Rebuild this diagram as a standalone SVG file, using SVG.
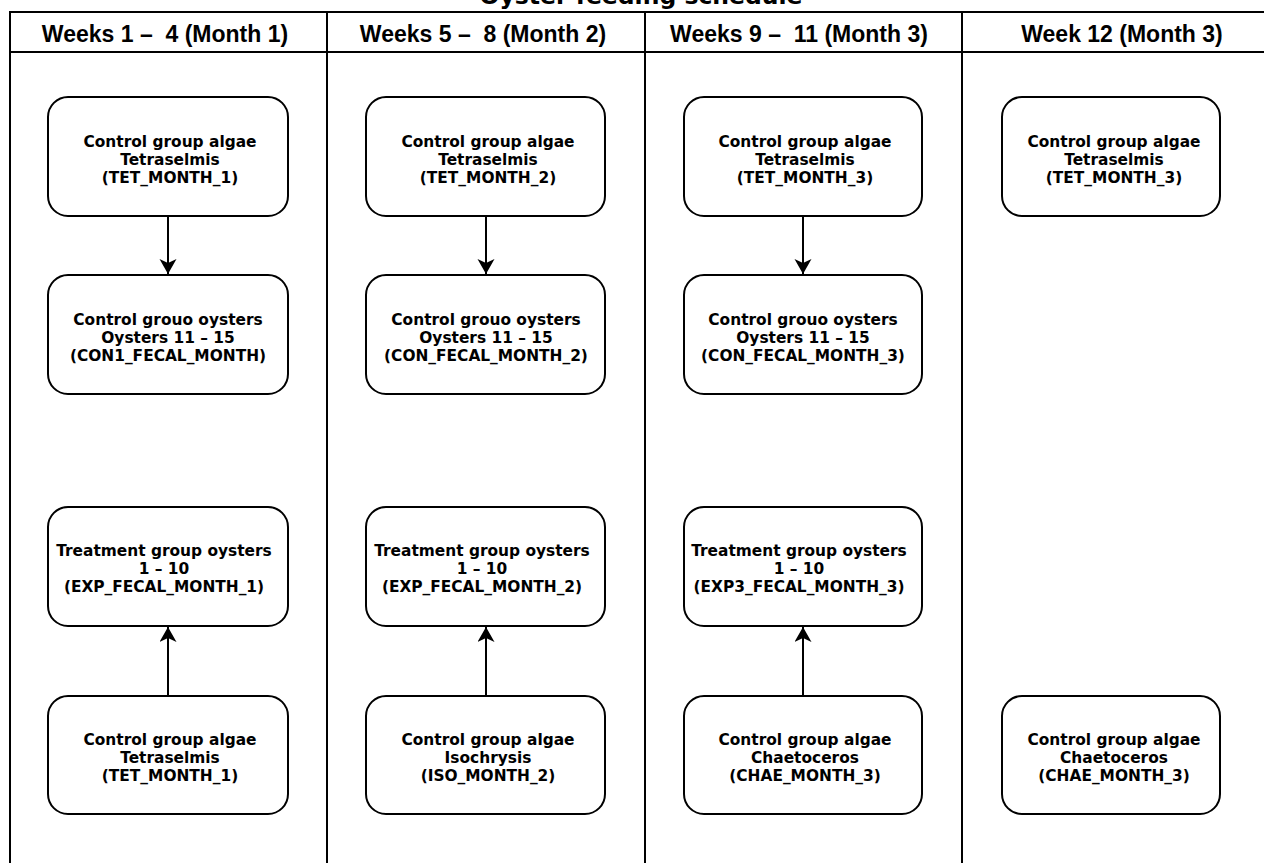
<svg xmlns="http://www.w3.org/2000/svg" width="1264" height="863" viewBox="0 0 1264 863">
<style>
.title{font-family:"DejaVu Sans","Liberation Sans",sans-serif;font-weight:bold;font-size:23.5px;fill:#000;text-anchor:middle}
.hdr{font-family:"Liberation Sans",Arial,sans-serif;font-weight:bold;font-size:23px;fill:#000;text-anchor:middle;white-space:pre}
.box{fill:#fff;stroke:#000;stroke-width:2}
.lbl{font-family:"DejaVu Sans","Liberation Sans",sans-serif;font-weight:bold;font-size:15.4px;fill:#000;text-anchor:middle}
.grid{fill:none;stroke:#000;stroke-width:2}
.conn{fill:none;stroke:#000;stroke-width:2}
</style>
<defs>
<marker id="arr" markerUnits="userSpaceOnUse" markerWidth="16" markerHeight="18" refX="15" refY="8.5" orient="auto">
<path d="M0,0 L15,8.5 L0,17 L4,8.5 Z" fill="#000"/>
</marker>
</defs>
<rect width="1264" height="863" fill="#fff"/>
<text class="title" x="641" y="4">Oyster feeding schedule</text>
<g id="table">
<rect class="grid" x="10" y="12" width="1272" height="900"/>
<line class="grid" x1="10" y1="52" x2="1282" y2="52"/>
<line class="grid" x1="327" y1="12" x2="327" y2="870"/>
<line class="grid" x1="645" y1="12" x2="645" y2="870"/>
<line class="grid" x1="962" y1="12" x2="962" y2="870"/>
<text class="hdr" x="165" y="42" xml:space="preserve">Weeks 1 –  4 (Month 1)</text>
<text class="hdr" x="483" y="42" xml:space="preserve">Weeks 5 –  8 (Month 2)</text>
<text class="hdr" x="799" y="42" xml:space="preserve">Weeks 9 –  11 (Month 3)</text>
<text class="hdr" x="1122" y="42">Week 12 (Month 3)</text>
</g>
<g id="connectors">
<line class="conn" x1="168" y1="216" x2="168" y2="274" marker-end="url(#arr)"/>
<line class="conn" x1="486" y1="216" x2="486" y2="274" marker-end="url(#arr)"/>
<line class="conn" x1="803" y1="216" x2="803" y2="274" marker-end="url(#arr)"/>
<line class="conn" x1="168" y1="696" x2="168" y2="627" marker-end="url(#arr)"/>
<line class="conn" x1="486" y1="696" x2="486" y2="627" marker-end="url(#arr)"/>
<line class="conn" x1="803" y1="696" x2="803" y2="627" marker-end="url(#arr)"/>
</g>
<g id="tet1">
<rect class="box" x="48" y="97" width="240" height="119" rx="20"/>
<text class="lbl" x="170"><tspan x="170" y="147">Control group algae</tspan><tspan x="170" y="165">Tetraselmis</tspan><tspan x="170" y="183">(TET_MONTH_1)</tspan></text>
</g>
<g id="con1">
<rect class="box" x="48" y="275" width="240" height="119" rx="20"/>
<text class="lbl" x="168"><tspan x="168" y="325">Control grouo oysters</tspan><tspan x="168" y="343">Oysters 11 – 15</tspan><tspan x="168" y="361">(CON1_FECAL_MONTH)</tspan></text>
</g>
<g id="exp1">
<rect class="box" x="48" y="507" width="240" height="119" rx="20"/>
<text class="lbl" x="164"><tspan x="164" y="556">Treatment group oysters</tspan><tspan x="164" y="574">1 – 10</tspan><tspan x="164" y="592">(EXP_FECAL_MONTH_1)</tspan></text>
</g>
<g id="tet1b">
<rect class="box" x="48" y="696" width="240" height="118" rx="20"/>
<text class="lbl" x="170"><tspan x="170" y="745">Control group algae</tspan><tspan x="170" y="763">Tetraselmis</tspan><tspan x="170" y="781">(TET_MONTH_1)</tspan></text>
</g>
<g id="tet2">
<rect class="box" x="366" y="97" width="239" height="119" rx="20"/>
<text class="lbl" x="488"><tspan x="488" y="147">Control group algae</tspan><tspan x="488" y="165">Tetraselmis</tspan><tspan x="488" y="183">(TET_MONTH_2)</tspan></text>
</g>
<g id="con2">
<rect class="box" x="366" y="275" width="239" height="119" rx="20"/>
<text class="lbl" x="486"><tspan x="486" y="325">Control grouo oysters</tspan><tspan x="486" y="343">Oysters 11 – 15</tspan><tspan x="486" y="361">(CON_FECAL_MONTH_2)</tspan></text>
</g>
<g id="exp2">
<rect class="box" x="366" y="507" width="239" height="119" rx="20"/>
<text class="lbl" x="482"><tspan x="482" y="556">Treatment group oysters</tspan><tspan x="482" y="574">1 – 10</tspan><tspan x="482" y="592">(EXP_FECAL_MONTH_2)</tspan></text>
</g>
<g id="iso2">
<rect class="box" x="366" y="696" width="239" height="118" rx="20"/>
<text class="lbl" x="488"><tspan x="488" y="745">Control group algae</tspan><tspan x="488" y="763">Isochrysis</tspan><tspan x="488" y="781">(ISO_MONTH_2)</tspan></text>
</g>
<g id="tet3">
<rect class="box" x="684" y="97" width="238" height="119" rx="20"/>
<text class="lbl" x="805"><tspan x="805" y="147">Control group algae</tspan><tspan x="805" y="165">Tetraselmis</tspan><tspan x="805" y="183">(TET_MONTH_3)</tspan></text>
</g>
<g id="con3">
<rect class="box" x="684" y="275" width="238" height="119" rx="20"/>
<text class="lbl" x="803"><tspan x="803" y="325">Control grouo oysters</tspan><tspan x="803" y="343">Oysters 11 – 15</tspan><tspan x="803" y="361">(CON_FECAL_MONTH_3)</tspan></text>
</g>
<g id="exp3">
<rect class="box" x="684" y="507" width="238" height="119" rx="20"/>
<text class="lbl" x="799"><tspan x="799" y="556">Treatment group oysters</tspan><tspan x="799" y="574">1 – 10</tspan><tspan x="799" y="592">(EXP3_FECAL_MONTH_3)</tspan></text>
</g>
<g id="chae3">
<rect class="box" x="684" y="696" width="238" height="118" rx="20"/>
<text class="lbl" x="805"><tspan x="805" y="745">Control group algae</tspan><tspan x="805" y="763">Chaetoceros</tspan><tspan x="805" y="781">(CHAE_MONTH_3)</tspan></text>
</g>
<g id="tet4">
<rect class="box" x="1002" y="97" width="218" height="119" rx="20"/>
<text class="lbl" x="1114"><tspan x="1114" y="147">Control group algae</tspan><tspan x="1114" y="165">Tetraselmis</tspan><tspan x="1114" y="183">(TET_MONTH_3)</tspan></text>
</g>
<g id="chae4">
<rect class="box" x="1002" y="696" width="218" height="118" rx="20"/>
<text class="lbl" x="1114"><tspan x="1114" y="745">Control group algae</tspan><tspan x="1114" y="763">Chaetoceros</tspan><tspan x="1114" y="781">(CHAE_MONTH_3)</tspan></text>
</g>
</svg>
